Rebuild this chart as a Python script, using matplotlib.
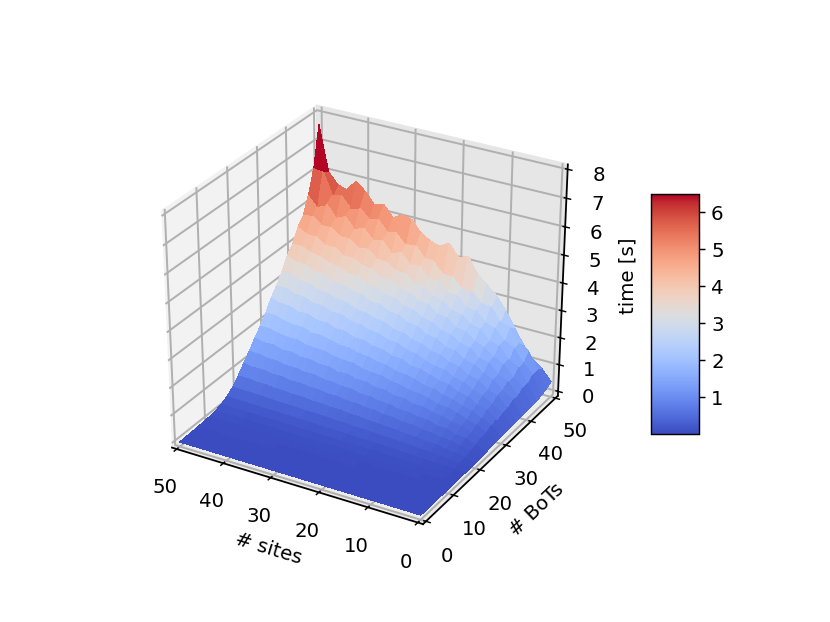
import numpy as np
import matplotlib
matplotlib.use("Agg")
import matplotlib.pyplot as plt
from matplotlib import cm

sites = list(range(0, 51, 2))
bots = list(range(0, 51, 2))

time_rows = [
 [.00,.00,.00,.00,.00,.00,.00,.00,.00,.00,.00,.00,.00,.00,.00,.00,.00,.00,.00,.00,.00,.00,.00,.00,.00,.00],
 [.00,.00,.00,.00,.00,.00,.00,.00,.00,.00,.00,.00,.01,.01,.01,.01,.01,.01,.01,.01,.01,.01,.01,.01,.01,.01],
 [.00,.00,.00,.01,.01,.01,.01,.01,.01,.01,.01,.01,.01,.01,.01,.02,.02,.02,.02,.02,.02,.02,.02,.02,.02,.02],
 [.00,.00,.01,.01,.01,.01,.01,.01,.02,.02,.02,.02,.02,.02,.02,.02,.02,.02,.03,.03,.03,.03,.03,.03,.03,.03],
 [.00,.01,.01,.01,.01,.02,.02,.02,.02,.02,.02,.03,.03,.03,.03,.03,.03,.03,.03,.03,.04,.04,.04,.04,.04,.04],
 [.00,.01,.02,.02,.02,.03,.03,.03,.03,.03,.04,.04,.04,.04,.04,.05,.05,.05,.05,.05,.05,.06,.06,.06,.06,.06],
 [.00,.02,.03,.03,.04,.04,.05,.05,.05,.06,.06,.06,.07,.07,.07,.08,.08,.08,.08,.09,.09,.09,.09,.10,.10,.10],
 [.01,.03,.04,.05,.06,.07,.08,.09,.09,.10,.10,.11,.11,.12,.12,.13,.13,.14,.14,.15,.15,.15,.16,.16,.17,.17],
 [.01,.05,.07,.09,.10,.11,.13,.14,.15,.16,.17,.18,.19,.20,.20,.21,.22,.23,.24,.24,.25,.25,.26,.27,.27,.28],
 [.02,.08,.12,.15,.17,.19,.22,.24,.25,.27,.28,.30,.31,.33,.34,.36,.37,.38,.39,.40,.41,.43,.44,.45,.46,.47],
 [.03,.12,.19,.21,.28,.29,.34,.35,.39,.40,.44,.45,.49,.49,.54,.54,.57,.57,.61,.61,.64,.65,.68,.68,.72,.72],
 [.04,.18,.24,.33,.36,.43,.45,.52,.52,.59,.59,.66,.66,.72,.72,.78,.77,.83,.83,.88,.87,.93,.92,.98,.97,1.02],
 [.05,.21,.35,.38,.50,.51,.62,.63,.71,.72,.80,.81,.89,.89,.97,.97,1.03,1.03,1.11,1.10,1.16,1.16,1.23,1.23,1.29,1.30],
 [.07,.29,.38,.53,.57,.69,.72,.83,.83,.94,.94,1.05,1.05,1.15,1.15,1.25,1.23,1.33,1.32,1.41,1.39,1.49,1.47,1.57,1.55,1.62],
 [.08,.31,.50,.58,.73,.82,.86,.97,1.05,1.07,1.17,1.21,1.32,1.33,1.38,1.49,1.50,1.53,1.64,1.66,1.67,1.78,1.77,1.83,1.91,1.90],
 [.09,.40,.55,.73,.81,.94,1.02,1.15,1.17,1.30,1.38,1.41,1.53,1.56,1.66,1.69,1.79,1.80,1.88,1.97,1.96,2.07,2.08,2.13,2.24,2.23],
 [.10,.43,.68,.78,.98,1.05,1.23,1.28,1.39,1.51,1.53,1.68,1.71,1.85,1.88,2.00,2.00,2.14,2.15,2.27,2.26,2.40,2.39,2.52,2.53,2.62],
 [.12,.52,.72,.94,1.06,1.24,1.33,1.51,1.54,1.65,1.80,1.86,2.01,2.04,2.18,2.21,2.33,2.36,2.51,2.51,2.63,2.65,2.78,2.80,2.93,2.92],
 [.13,.54,.86,.99,1.25,1.32,1.55,1.62,1.78,1.85,2.01,2.08,2.24,2.27,2.44,2.48,2.60,2.63,2.80,2.81,2.94,2.96,3.11,3.13,3.27,3.27],
 [.15,.66,.89,1.18,1.33,1.55,1.65,1.88,1.92,2.13,2.18,2.40,2.44,2.62,2.66,2.84,2.84,3.02,3.06,3.19,3.20,3.39,3.38,3.56,3.58,3.72],
 [.16,.66,1.05,1.22,1.54,1.62,1.90,1.99,2.19,2.27,2.47,2.55,2.75,2.80,3.00,3.04,3.20,3.24,3.44,3.44,3.60,3.65,3.81,3.85,4.01,4.00],
 [.18,.79,1.07,1.42,1.60,1.86,1.98,2.26,2.30,2.57,2.61,2.88,2.91,3.14,3.19,3.41,3.40,3.63,3.67,3.85,3.84,4.07,4.06,4.29,4.28,4.47],
 [.19,.78,1.26,1.44,1.83,1.93,2.27,2.36,2.61,2.70,2.95,3.03,3.30,3.31,3.58,3.60,3.83,3.84,4.12,4.08,4.32,4.32,4.57,4.55,4.80,4.75],
 [.22,.94,1.25,1.70,1.88,2.22,2.35,2.70,2.72,3.07,3.08,3.44,3.43,3.78,3.74,4.10,4.00,4.36,4.30,4.64,4.52,4.90,4.76,5.17,5.02,5.38],
 [.30,.95,1.55,1.72,2.22,2.32,2.78,2.80,3.15,3.22,3.55,3.55,3.92,3.90,4.28,4.25,4.62,4.50,4.90,4.82,5.15,5.05,5.42,5.35,6.16,6.20],
 [.40,.80,1.05,1.50,2.05,2.60,3.05,3.35,3.65,4.20,4.05,4.50,4.30,4.40,4.60,5.00,5.10,4.90,5.30,5.20,5.60,5.90,5.50,5.60,6.00,7.60],
]

cbar_ticks = [1, 2, 3, 4, 5, 6]

time_s = np.array(time_rows)
X, Y = np.meshgrid(sites, bots)

fig = plt.figure(figsize=(6.4, 4.8), dpi=129.7)
ax = fig.add_subplot(projection="3d")
surf = ax.plot_surface(X, Y, time_s, cmap=cm.coolwarm, linewidth=0, antialiased=False,
                       rstride=1, cstride=1)
ax.set_xlim(50, 0, view_margin=1 / 48)
ax.set_ylim(0, 50, view_margin=1 / 48)
ax.set_zlim(0, 8, view_margin=1 / 48)
ax.set_xticks([50, 40, 30, 20, 10, 0])
ax.set_yticks([0, 10, 20, 30, 40, 50])
ax.set_zticks(range(9))
ax.tick_params(labelsize=11)
ax.set_xlabel("# sites", fontsize=11)
ax.set_ylabel("# BoTs", fontsize=11)
ax.apply_aspect = lambda position=None: None
ax.set_box_aspect((1, 1, 1), zoom=np.sqrt(3) / 1.8294640721620434)
for axis, c in ((ax.xaxis, 0.95), (ax.yaxis, 0.90), (ax.zaxis, 0.925)):
    axis.set_pane_color((c, c, c, 1.0))
    axis.pane.set_edgecolor((c, c, c, 1.0))
    axis._axinfo["grid"]["color"] = (0.69, 0.69, 0.69, 1.0)
    axis._axinfo["grid"]["linewidth"] = 1.1
    axis.line.set_color("black")
    axis.line.set_linewidth(1.0)
cbar = fig.colorbar(surf, shrink=0.5, aspect=5)
cbar.set_ticks(cbar_ticks)
cbar.ax.tick_params(labelsize=11)
cbar.set_label("time [s]", fontsize=11)
cbar.ax.yaxis.set_label_position("left")
cbar.ax.yaxis.set_label_coords(-0.28, 0.6625)
fig.savefig("out.png", dpi=129.7)
